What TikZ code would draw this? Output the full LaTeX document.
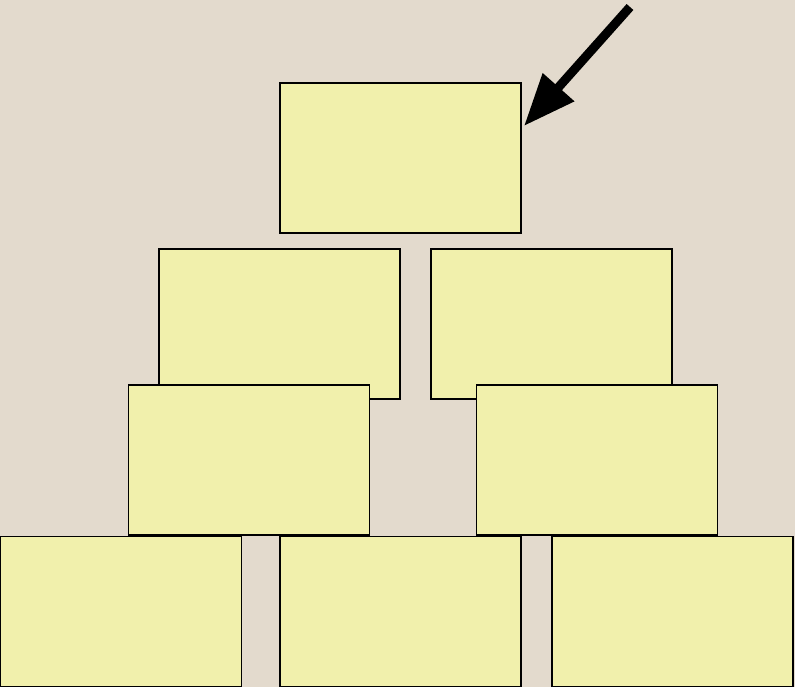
\documentclass[tikz,border=0pt]{standalone}
\usetikzlibrary{arrows.meta}
\definecolor{bgc}{HTML}{E3DACD}
\definecolor{boxc}{HTML}{F1F0AC}
\tikzset{
  card/.style={draw=black, fill=boxc, line width=1.5pt, inner sep=0pt, outer sep=0pt,
    minimum width=241pt, minimum height=150pt},
  pointer/.style={line width=9pt, -{Triangle[length=52pt, width=40pt]}, shorten >=0pt}
}
\begin{document}
\begin{tikzpicture}[x=1pt, y=-1pt]
\fill[bgc] (0,0) rectangle (795,687);
\useasboundingbox (0,0) rectangle (795,687);
\node[card] (top) at (400.5,158) {};
\node[card] (r2l) at (279.5,324) {};
\node[card] (r2r) at (551.5,324) {};
\node[card] (r3l) at (249,460) {};
\node[card] (r3r) at (597,460) {};
\node[card] (r4a) at (121,611.5) {};
\node[card] (r4b) at (400.5,611.5) {};
\node[card] (r4c) at (672.5,611.5) {};
\coordinate (tail) at (630,7);
\coordinate (tip) at (524,126);
\draw[pointer] (tail) -- (tip);
\end{tikzpicture}
\end{document}
